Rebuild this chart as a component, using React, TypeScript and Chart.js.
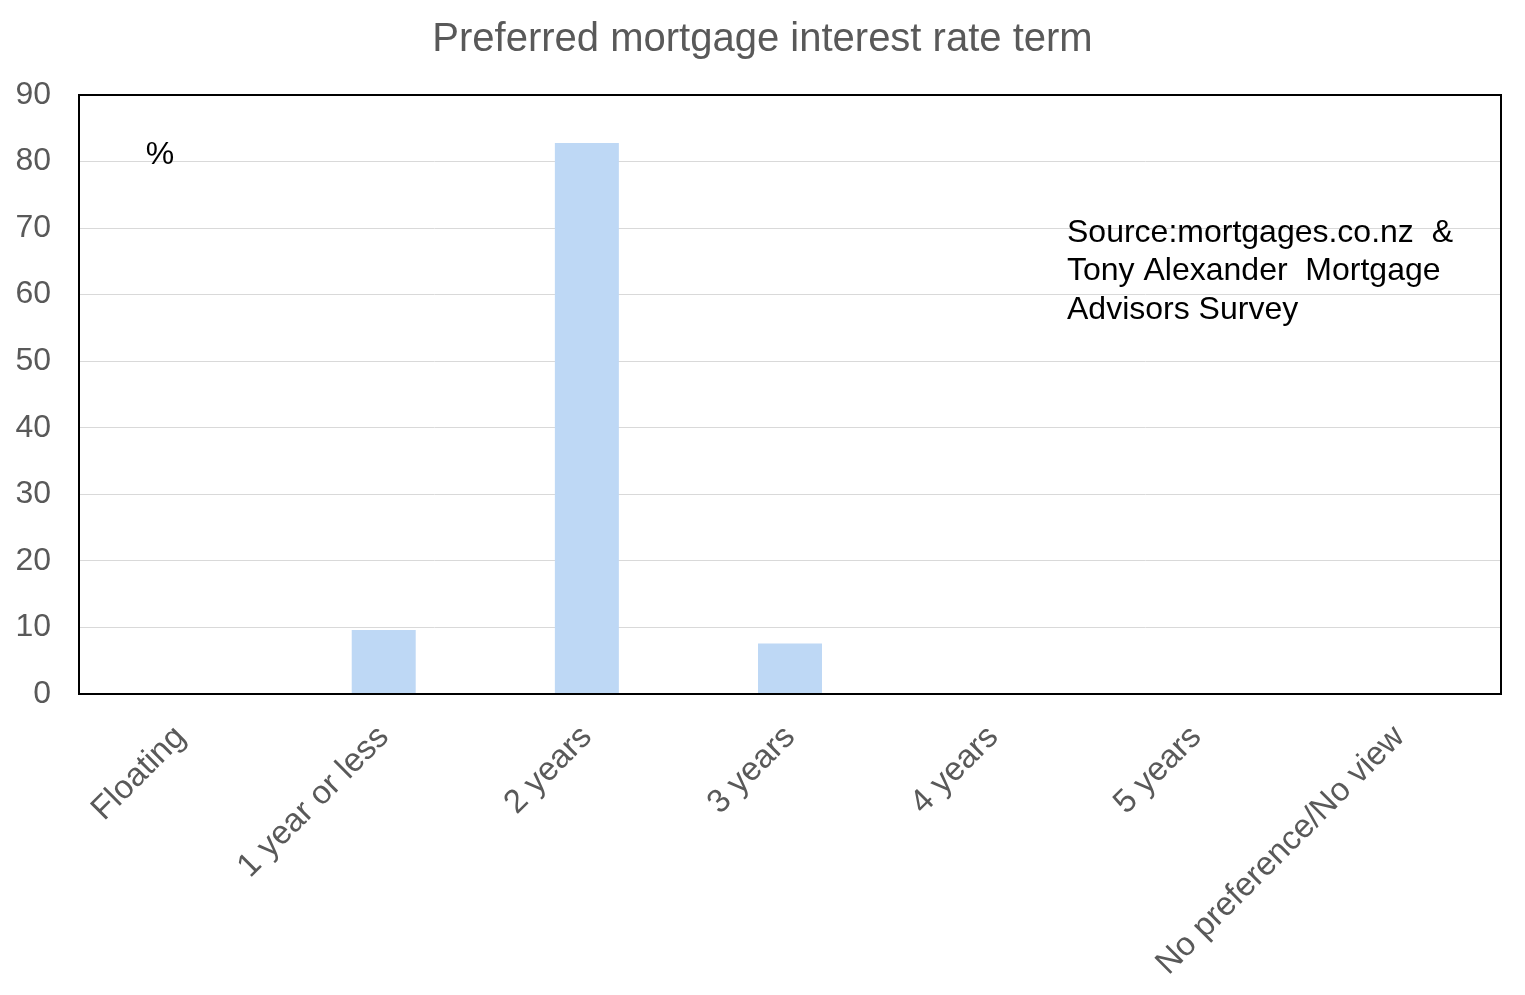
import React, { useEffect, useRef } from 'react';
import { Chart, registerables } from 'chart.js';

Chart.register(...registerables);

const categories = ['Floating', '1 year or less', '2 years', '3 years', '4 years', '5 years', 'No preference/No view'];
const shares = [0, 9.6, 82.8, 7.6, 0, 0, 0];
const titleText = 'Preferred mortgage interest rate term';
const sourceLines = ['Source:mortgages.co.nz  &', 'Tony Alexander  Mortgage', 'Advisors Survey'];

const FONT = '"Liberation Sans", Arial, sans-serif';

// extra text and the box round the plot
const decorations = {
  id: 'decorations',
  afterDraw(chart: Chart) {
    const { ctx, chartArea } = chart;
    ctx.save();
    ctx.strokeStyle = '#000';
    ctx.lineWidth = 2;
    ctx.strokeRect(chartArea.left, chartArea.top, chartArea.right - chartArea.left, chartArea.bottom - chartArea.top);

    ctx.fillStyle = '#595959';
    ctx.font = `40px ${FONT}`;
    ctx.textAlign = 'center';
    ctx.textBaseline = 'middle';
    ctx.fillText(titleText, chart.width / 2, 40);

    ctx.fillStyle = '#000';
    ctx.font = `32px ${FONT}`;
    ctx.fillText('%', 160, 155);

    ctx.textAlign = 'left';
    sourceLines.forEach((line, i) => ctx.fillText(line, 1067, 233 + i * 38.5));
    ctx.restore();
  },
};

const App: React.FC = () => {
  const canvasRef = useRef<HTMLCanvasElement>(null);

  useEffect(() => {
    const ctx = canvasRef.current?.getContext('2d');
    if (!ctx) return;
    const chart = new Chart(ctx, {
      type: 'bar',
      data: {
        labels: categories,
        datasets: [
          {
            data: shares,
            backgroundColor: '#bed8f5',
            barPercentage: 0.315,
            categoryPercentage: 1,
          },
        ],
      },
      options: {
        responsive: false,
        animation: false,
        layout: { padding: { top: 95, right: 24, left: 0, bottom: 0 } },
        plugins: { legend: { display: false }, tooltip: { enabled: false } },
        scales: {
          x: {
            grid: { display: false, drawTicks: false },
            border: { display: false },
            ticks: {
              color: '#595959',
              font: { family: FONT, size: 33 },
              minRotation: 45,
              maxRotation: 45,
              padding: 24,
              autoSkip: false,
            },
            afterFit: (scale: any) => {
              scale.height = 301;
            },
          },
          y: {
            min: 0,
            max: 90,
            grid: { color: '#d9d9d9', lineWidth: 1, drawTicks: false },
            border: { display: false },
            ticks: {
              stepSize: 10,
              color: '#595959',
              font: { family: FONT, size: 32 },
              padding: 28,
            },
            afterFit: (scale: any) => {
              scale.width = 79;
            },
          },
        },
      },
      plugins: [decorations],
    });
    return () => chart.destroy();
  }, []);

  return (
    <div style={{ position: 'fixed', left: 0, top: 0, width: 1525, height: 995, background: '#fff' }}>
      <canvas ref={canvasRef} width={1525} height={995} style={{ width: 1525, height: 995 }}></canvas>
    </div>
  );
};

export default App;
